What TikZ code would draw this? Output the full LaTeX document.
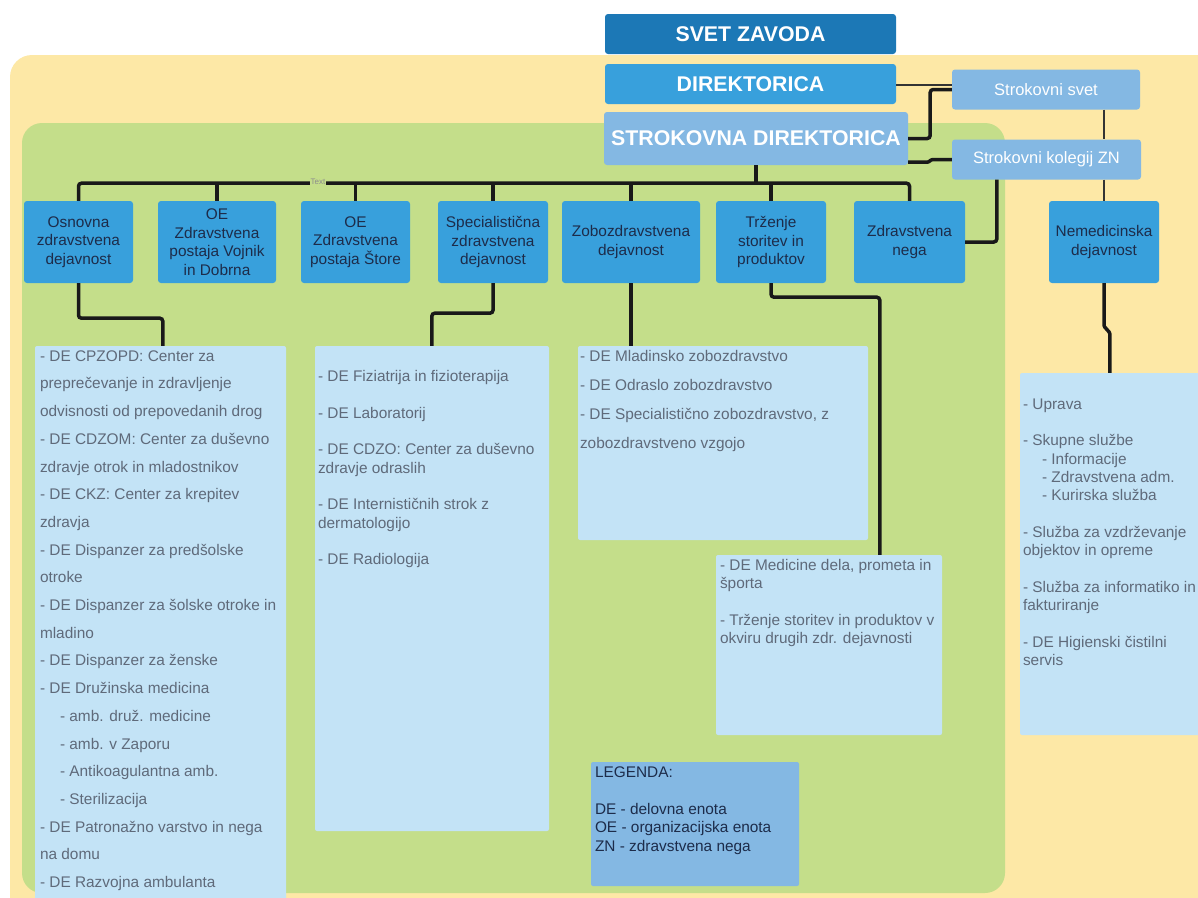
\documentclass[tikz,border=0pt]{standalone}
\usepackage{fontspec}
\setmainfont{Liberation Sans}
\usetikzlibrary{calc}

\definecolor{yellowbg}{HTML}{FDE8A6}
\definecolor{greenbg}{HTML}{C4DE8A}
\definecolor{darkblue}{HTML}{1C78B6}
\definecolor{midblue}{HTML}{38A0DC}
\definecolor{paleblue}{HTML}{84B8E3}
\definecolor{listblue}{HTML}{C3E3F6}
\definecolor{navy}{HTML}{1D2C4A}
\definecolor{listgray}{HTML}{5F6A7A}

\begin{document}
\begin{tikzpicture}[x=1pt,y=-1pt]
\tikzstyle{head} = [rounded corners=3pt, text=white, inner sep=0pt, font=\fontsize{21.3}{24}\selectfont\bfseries]
\tikzstyle{council} = [fill=paleblue, rounded corners=3pt, text=white, inner sep=0pt, minimum height=40pt, font=\fontsize{16.5}{19}\selectfont]
\tikzstyle{unit} = [fill=midblue, rounded corners=3pt, text=navy, align=center, inner sep=0pt, minimum height=82pt, font=\fontsize{15.4}{18.5}\selectfont]
\tikzstyle{listbox} = [fill=listblue, rounded corners=2pt, inner sep=0pt]
\tikzstyle{listtxt} = [anchor=north west, align=left, inner sep=0pt, text=listgray]
\tikzstyle{conn} = [draw=black!90, line width=3.5pt, rounded corners=3pt]
\tikzstyle{thinconn} = [draw=black!80, line width=1.5pt]
\useasboundingbox (0,0) rectangle (1198,897);
% ozadje
\fill[yellowbg, rounded corners=22pt] (10,55) rectangle (1240,940);
\fill[greenbg, rounded corners=20pt] (22,123) rectangle (1005,893);

\node[head, fill=darkblue, minimum width=291pt, minimum height=40pt] (zavod) at (750.5,34) {SVET ZAVODA};
\node[head, fill=midblue, minimum width=291pt, minimum height=40pt] (dir) at (750.5,84) {DIREKTORICA};
\node[head, fill=paleblue, minimum width=304pt, minimum height=53pt] (sdir) at (756,138.5) {STROKOVNA DIREKTORICA};
\node[council, minimum width=188pt] (ssvet) at (1046,89.5) {Strokovni svet};
\node[council, minimum width=189pt] (skol) at (1046.5,159.5) {Strokovni kolegij ZN};

\node[unit, minimum width=109pt] (osn) at (78.5,242) {Osnovna\\zdravstvena\\dejavnost};
\node[unit, minimum width=118pt] (vojnik) at (217,242) {OE\\Zdravstvena\\postaja Vojnik\\in Dobrna};
\node[unit, minimum width=109pt] (store) at (355.5,242) {OE\\Zdravstvena\\postaja Štore};
\node[unit, minimum width=110pt] (spec) at (493,242) {Specialistična\\zdravstvena\\dejavnost};
\node[unit, minimum width=138pt] (zobo) at (631,242) {Zobozdravstvena\\dejavnost};
\node[unit, minimum width=110pt] (trz) at (771,242) {Trženje\\storitev in\\produktov};
\node[unit, minimum width=111pt] (nega) at (909.5,242) {Zdravstvena\\nega};
\node[unit, minimum width=110pt] (nemed) at (1104,242) {Nemedicinska\\dejavnost};

\node[listbox, minimum width=251pt, minimum height=560pt] (osnlist) at (160.5,626) {};
\node[listbox, minimum width=234pt, minimum height=485pt] (speclist) at (432,588.5) {};
\node[listbox, minimum width=290pt, minimum height=194pt] (zobolist) at (723,443) {};
\node[listbox, minimum width=226pt, minimum height=180pt] (trzlist) at (829,645) {};
\node[listbox, minimum width=190pt, minimum height=362pt] (nemedlist) at (1115,554) {};
\node[fill=paleblue, rounded corners=2pt, inner sep=0pt, minimum width=208pt, minimum height=124pt] (legenda) at (695,824) {};

\node[listtxt, font=\fontsize{15.4}{27.7}\selectfont] (osntxt) at ($(osnlist.north west)+(5,4.5)$) {- DE CPZOPD: Center za\\
preprečevanje in zdravljenje\\
odvisnosti od prepovedanih drog\\
- DE CDZOM: Center za duševno\\
zdravje otrok in mladostnikov\\
- DE CKZ: Center za krepitev\\
zdravja\\
- DE Dispanzer za predšolske\\
otroke\\
- DE Dispanzer za šolske otroke in\\
mladino\\
- DE Dispanzer za ženske\\
- DE Družinska medicina\\
\hspace*{20pt}- amb. druž. medicine\\
\hspace*{20pt}- amb. v Zaporu\\
\hspace*{20pt}- Antikoagulantna amb.\\
\hspace*{20pt}- Sterilizacija\\
- DE Patronažno varstvo in nega\\
na domu\\
- DE Razvojna ambulanta};
\node[listtxt, font=\fontsize{15.4}{18.3}\selectfont] (spectxt) at ($(speclist.north west)+(3,24.5)$) {- DE Fiziatrija in fizioterapija\\[18.3pt]
- DE Laboratorij\\[18.3pt]
- DE CDZO: Center za duševno\\
zdravje odraslih\\[18.3pt]
- DE Internističnih strok z\\
dermatologijo\\[18.3pt]
- DE Radiologija};
\node[listtxt, font=\fontsize{15.4}{29}\selectfont] (zobotxt) at ($(zobolist.north west)+(2,4.5)$) {- DE Mladinsko zobozdravstvo\\
- DE Odraslo zobozdravstvo\\
- DE Specialistično zobozdravstvo, z\\
zobozdravstveno vzgojo};
\node[listtxt, font=\fontsize{15.4}{18.3}\selectfont] (trztxt) at ($(trzlist.north west)+(4,4.5)$) {- DE Medicine dela, prometa in\\
športa\\[18.3pt]
- Trženje storitev in produktov v\\
okviru drugih zdr. dejavnosti};
\node[listtxt, font=\fontsize{15.4}{18.3}\selectfont] (nemedtxt) at ($(nemedlist.north west)+(3,25.5)$) {- Uprava\\[18.3pt]
- Skupne službe\\
\hspace*{19pt}- Informacije\\
\hspace*{19pt}- Zdravstvena adm.\\
\hspace*{19pt}- Kurirska služba\\[18.3pt]
- Služba za vzdrževanje\\
objektov in opreme\\[18.3pt]
- Služba za informatiko in\\
fakturiranje\\[18.3pt]
- DE Higienski čistilni\\
servis};
\node[listtxt, text=navy, font=\fontsize{15.4}{18.5}\selectfont] (legtxt) at ($(legenda.north west)+(4,4.5)$) {LEGENDA:\\[18.5pt]
DE - delovna enota\\
OE - organizacijska enota\\
ZN - zdravstvena nega};

% povezave
\draw[thinconn] ($(dir.east)+(0,1)$) -- ($(dir.east -| ssvet.west)+(0,1)$);
\draw[conn] (sdir.east) -- ++(22,0) |- (ssvet.west);
\draw[conn, rounded corners=1pt] ($(sdir.south east)+(0,-3)$) -- ++(20,0) -- ($(skol.west)+(-20,0)$) -- (skol.west);
\draw[thinconn] (nemed.north |- ssvet.south) -- (nemed.north |- skol.north);
\draw[thinconn] (nemed.north |- skol.south) -- (nemed.north);
\draw[conn] ($(skol.south west)+(45,0)$) |- (nega.east);
\draw[conn, rounded corners=1pt] (nemed.south) -- ++(0,43) -- ($(nemedlist.north west)+(90,-40)$) -- ($(nemedlist.north west)+(90,0)$);

\coordinate (bus) at ($(sdir.south)+(0,18)$);
\draw[conn] (sdir.south) -- (bus);
\draw[conn] (bus) -| (osn.north);
\draw[conn] (bus) -| (nega.north);
\foreach \b in {vojnik,store,spec,zobo,trz}
  \draw[conn] (\b.north) -- (\b.north |- bus);
\node[fill=greenbg, inner sep=1pt, text=black!45, font=\fontsize{8}{9}\selectfont] (bustxt) at (318,182) {Text};

\draw[conn] (osn.south) -- ++(0,35) -| ($(osnlist.north west)+(128,0)$);
\draw[conn] (spec.south) -- ++(0,30) -| ($(speclist.north west)+(117,0)$);
\draw[conn] (zobo.south) -- (zobo.south |- zobolist.north);
\draw[conn] (trz.south) -- ++(0,14) -| ($(trzlist.north west)+(164,0)$);
\end{tikzpicture}
\end{document}
